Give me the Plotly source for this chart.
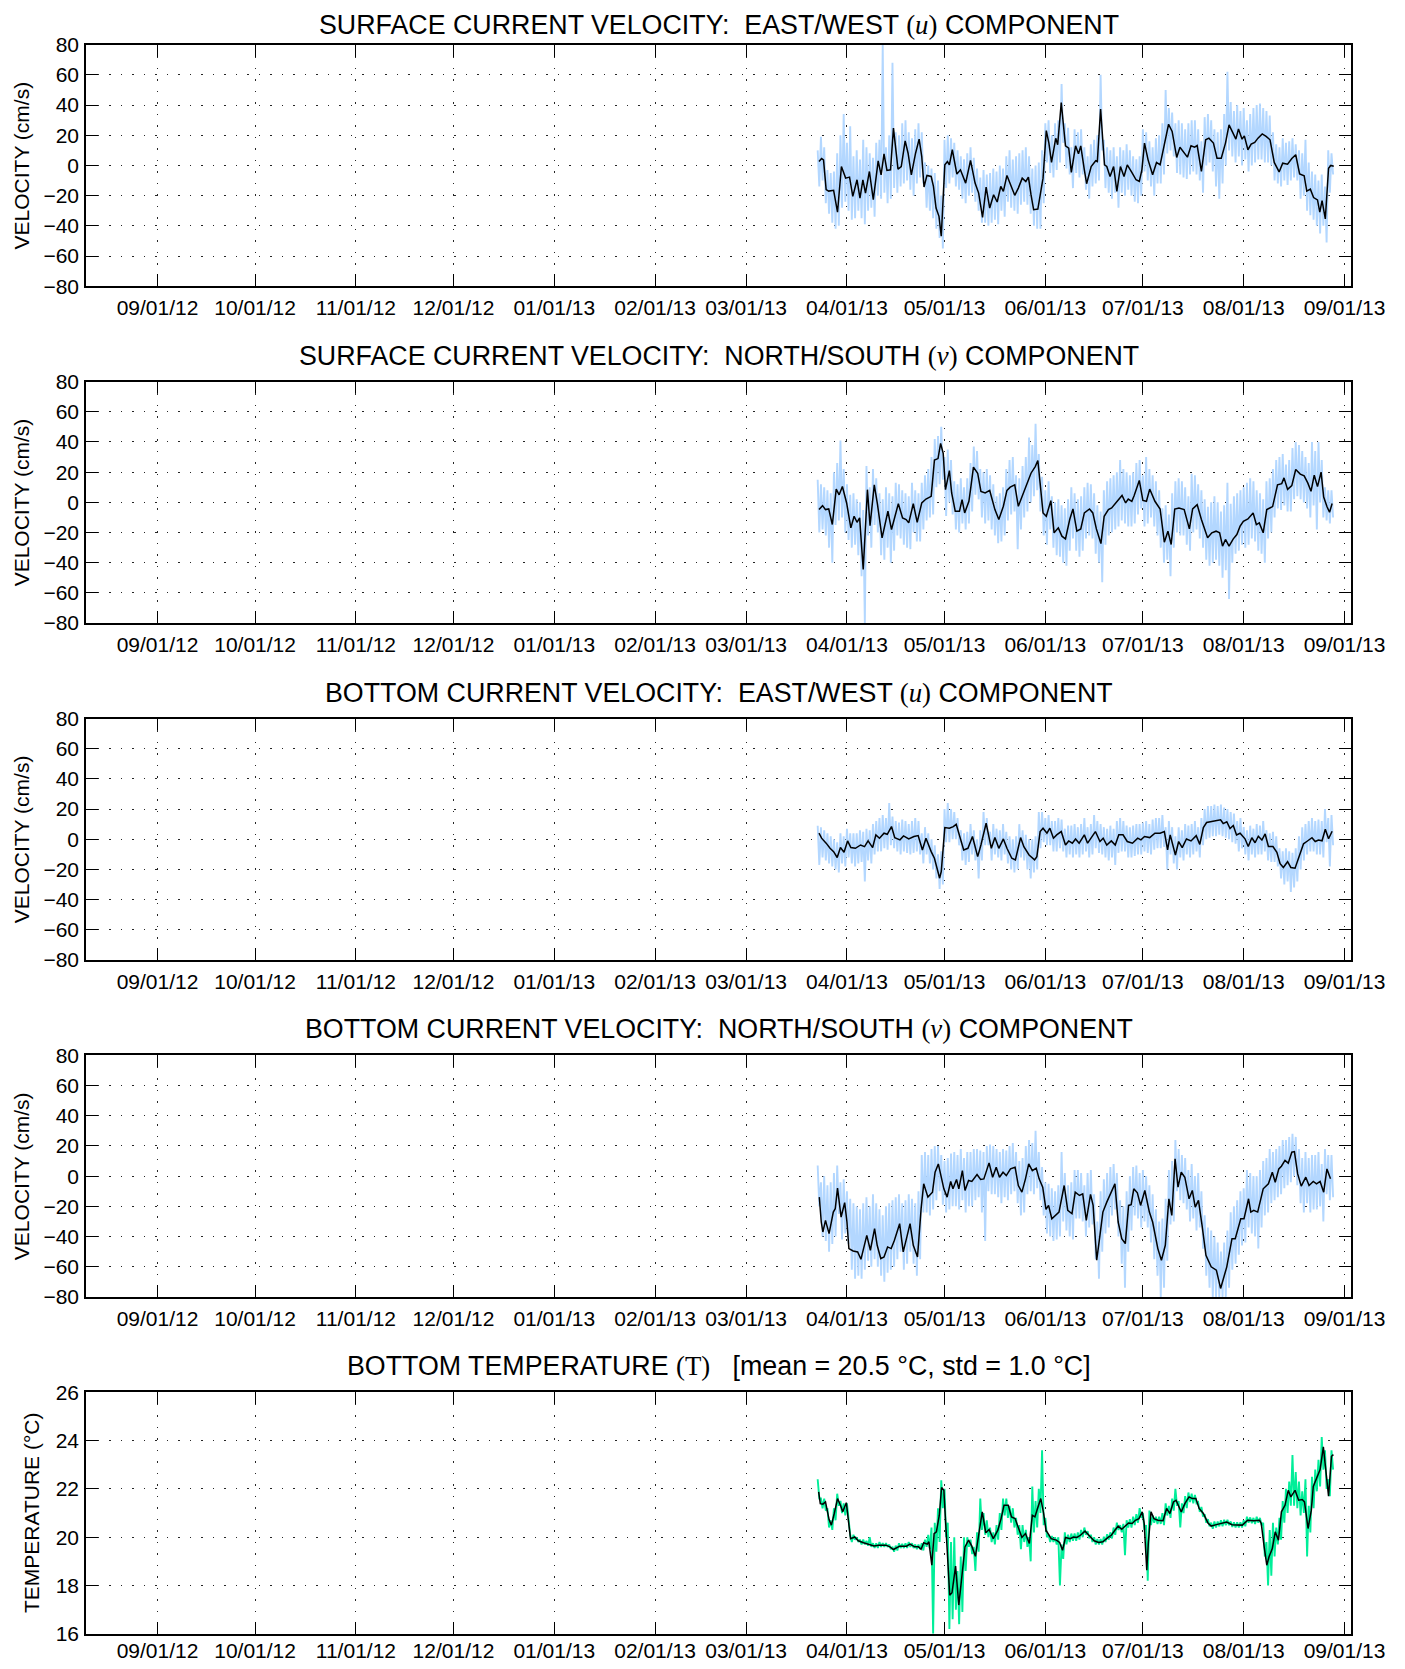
import pandas as pd
import plotly.graph_objects as go

# ---------------- DATA ----------------
BASE = "2013-03-01"          # day offsets below are days after this date
RAW_DAY0 = 22                # first day of the hi/lo raw-envelope arrays

tick_dates = ["2012-09-01", "2012-10-01", "2012-11-01", "2012-12-01", "2013-01-01",
              "2013-02-01", "2013-03-01", "2013-04-01", "2013-05-01", "2013-06-01",
              "2013-07-01", "2013-08-01", "2013-09-01"]
x_range = ["2012-08-10", "2013-09-03"]
vel_ticks = [-80, -60, -40, -20, 0, 20, 40, 60, 80]
temp_ticks = [16, 18, 20, 22, 24, 26]

# Panel 1: surface u (low-passed, black)
u_sfc_t = [22.4, 23.2, 23.8, 24.6, 25.4, 26.9, 28.1, 29.3, 30.6, 31.8, 32.8, 34.1, 35.0, 35.9, 36.7, 37.9,
           39.1, 40.6, 41.5, 42.4, 43.3, 44.4, 45.3, 46.7, 47.7, 48.9, 49.8, 50.8, 52.1, 53.2, 54.0, 54.7,
           55.6, 56.9, 57.6, 58.4, 59.3, 60.0, 61.1, 61.9, 62.5, 63.4, 64.8, 65.9, 67.5, 69.0, 70.4, 71.5,
           72.7, 73.8, 74.9, 76.1, 77.2, 78.3, 79.1, 80.2, 81.2, 82.6, 83.7, 84.9, 86.0, 86.8, 87.6, 88.4,
           89.7, 91.3, 92.3, 93.1, 93.9, 95.2, 95.8, 96.9, 98.2, 99.2, 100.0, 101.3, 102.2, 102.9, 104.0,
           104.7, 106.1, 107.5, 108.0, 109.0, 110.2, 110.9, 111.9, 113.0, 114.0, 115.1, 116.2, 117.2, 118.6,
           119.9, 120.9, 121.7, 122.5, 123.6, 125.0, 126.2, 127.3, 128.6, 129.9, 131.0, 132.4, 133.4, 134.7,
           135.7, 136.8, 137.9, 138.7, 140.0, 141.3, 142.3, 143.7, 144.8, 146.1, 147.4, 148.5, 149.7, 150.6,
           151.4, 152.5, 153.2, 154.3, 155.3, 156.4, 157.4, 158.7, 159.9, 161.1, 162.4, 163.9, 165.0, 166.5,
           167.8, 169.0, 170.2, 171.6, 172.4, 173.5, 174.5, 175.7, 176.4, 177.1, 178.1, 179.1, 179.8, 180.7]
u_sfc = [2.6, 4.6, 3.7, -16, -17, -16.5, -31, -0.7, -8.4, -7.7, -20.5, -9.5, -21.6, -9.5, -18.3, -4,
         -22.7, 3, -6.2, 7.7, -3.3, -2.9, 24.7, -2.4, -0.7, 16.3, 8.1, -6.2, 8.1, 17.4, 5.9, -14.3,
         -6.6, -7.3, -13.9, -28.2, -33.7, -46.9, 0.4, 2.6, 0.4, 10.4, -5.7, -2.9, -11.7, 3.3, -11.7, -18.3,
         -34.4, -14.3, -28.2, -19.4, -24.2, -13.9, -17.2, -6.6, -12.1, -19.8, -15, -8.4, -10.6, -7.7, -19.4, -29.3,
         -28.9, -8.4, 23.1, 14.8, 2, 18, 13.7, 41.6, 13, 11.5, -4.6, 13, 7.7, 13, -2.9,
         -12.1, -0.7, 3.1, 2.6, 37.4, 0.4, -0.7, -7.3, -0.7, -17.2, -0.7, -7.3, 0.4, -4.6,
         -9.5, -10.6, -2.9, 14.8, 3.7, -6.2, 2, 0.4, 13.7, 27.3, 22.5, 5.3, 12.1, 8.6,
         5.5, 13, 12.1, 13.2, -4, 17, 18.1, 14.8, 4.8, 4.8, 14.8, 26.9, 21.4, 17.4,
         24.2, 17.4, 19.6, 10.4, 14.1, 15.2, 18.1, 20.9, 19.2, 17, 2, -4.3, 1.5, 0.8,
         4.6, 7.1, -5.6, -6.8, -17, -15.7, -21.3, -22.8, -30.9, -23.3, -35.4, -1.8, 0, -0.5]
# Panel 1 raw envelope (one high and one low reading per day, from day 22)
u_sfc_hi = [10, 19, 12, -3, -5, -4, 8, 20, 34, 15,
            26, 6, 10, 4, 17, 12, 8, 5, 15, 17,
            80, 12, 20, 68, 22, 20, 28, 30, 22, 18,
            24, 28, 22, 2, 0, -2, -5, -10, -20, 17,
            20, 18, 15, 10, 6, 4, 8, 12, 5, -2,
            -8, -3, -6, -5, -2, -4, 0, -2, 6, 10,
            4, 6, 8, 10, 12, 6, -2, 0, 2, 10,
            28, 30, 20, 28, 30, 54, 28, 25, 12, 24,
            22, 24, 12, 6, 14, 17, 20, 60, 17, 12,
            10, 12, 6, 12, 10, 14, 10, 6, 4, 6,
            24, 22, 16, 12, 18, 20, 28, 50, 38, 35,
            28, 30, 28, 24, 28, 30, 30, 24, 16, 32,
            34, 30, 24, 22, 24, 34, 62, 42, 36, 40,
            36, 38, 30, 34, 38, 40, 41, 38, 36, 33,
            22, 14, 12, 18, 15, 16, 18, 14, 10, 8,
            17, 2, -4, -6, -10, -6, -14, 10, 8]
u_sfc_lo = [-14, -10, -25, -32, -38, -42, -40, -28, -24, -30,
            -36, -35, -30, -35, -39, -30, -28, -34, -20, -22,
            -18, -25, -22, -15, -18, -14, -12, -10, -16, -20,
            -12, -8, -12, -28, -30, -35, -42, -48, -55, -15,
            -12, -8, -14, -16, -22, -25, -20, -18, -24, -30,
            -38, -38, -40, -38, -36, -39, -30, -34, -24, -28,
            -30, -32, -26, -24, -26, -32, -40, -42, -42, -25,
            2, -5, -8, -3, 2, 15, -2, -6, -15, -5,
            -8, -6, -16, -22, -14, -12, -10, 10, -15, -18,
            -22, -18, -28, -18, -20, -16, -20, -24, -25, -20,
            -4, -10, -14, -20, -12, -12, -6, 8, 10, 6,
            -5, -6, -8, -9, -6, -4, -6, -10, -18, 0,
            2, -4, -14, -22, -12, 0, 10, 6, 2, 6,
            0, 4, -4, 0, 2, 4, 4, 2, 2, 0,
            -10, -12, -14, -10, -13, -10, -8, -10, -22, -20,
            -30, -33, -36, -40, -45, -40, -51, -18, -6]

# Panel 2: surface v
v_sfc_t = [22.4, 23.5, 24.4, 25.4, 26.5, 27.7, 28.6, 29.6, 30.9, 32.2, 33.2, 34.1, 34.9, 36.0, 37.3, 38.1,
           39.4, 40.4, 41.8, 43.6, 44.7, 45.7, 46.8, 48.1, 49.2, 50.0, 51.4, 52.6, 54.0, 55.3, 56.9, 57.9,
           59.0, 59.8, 60.6, 61.3, 62.5, 63.2, 64.3, 65.6, 66.4, 67.2, 68.5, 69.0, 69.9, 71.2, 72.2, 73.5,
           74.9, 76.5, 77.7, 79.1, 80.2, 81.2, 82.6, 83.7, 84.9, 86.2, 87.6, 88.9, 89.7, 90.4, 91.3, 92.3,
           93.7, 94.7, 96.0, 97.1, 98.2, 99.5, 100.5, 101.7, 102.9, 104.0, 105.6, 106.6, 107.7, 109.1, 110.1,
           111.4, 112.4, 114.1, 115.6, 116.7, 117.5, 118.6, 119.3, 120.9, 122.0, 123.1, 124.1, 125.7, 127.3,
           128.6, 129.7, 130.7, 131.8, 133.1, 134.7, 136.3, 137.3, 138.7, 140.0, 141.9, 143.2, 144.5, 145.6,
           146.5, 147.4, 148.5, 149.8, 150.9, 151.9, 152.9, 154.3, 155.9, 156.9, 157.8, 159.0, 160.1, 160.9,
           161.9, 163.4, 164.7, 165.4, 166.5, 167.8, 169.0, 170.4, 171.6, 172.7, 173.7, 174.7, 175.7, 176.8,
           177.6, 178.6, 179.4, 180.2]
v_sfc = [-4.8, -2.2, -4.8, -4.4, -14.7, 8.8, 5, 10.5, -0.4, -16.9, -9.2, -13.2, -10.3, -44.4, 8.4, -15.4,
         11.6, -1.5, -23.5, -5.9, -18, -10.3, -0.9, -10.3, -11.4, -13.6, -0.9, -13.2, -0.4, 2.2, 4, 28,
         29, 39, 32.5, 8.4, 21, 6.2, -5.9, -5.9, 1.8, -7, 0.7, 8.4, 23.3, 19.3, 7.3, 6.2,
         7.9, -4.8, -11.4, -2.6, 7.9, 10.1, 11.6, -2.6, 4, 11.6, 19.3, 23.7, 27.7, 12.7, -7, -9.2,
         1.1, -20.2, -16.9, -22.4, -24.2, -11.4, -4.4, -19.1, -17.6, -7, -4.4, -7, -17.6, -27.3, -9.2,
         -4.8, -3.7, 0.7, 4.6, -0.4, 2.2, 0.7, 4.4, 14.5, 1.3, 0.7, 8.8, 0.7, -4.4,
         -26.4, -19.1, -27.9, -4.4, -3.7, -4.8, -17.6, -4.4, -1.5, -11.4, -23.5, -20.2, -19.1, -20.2,
         -29, -24.6, -29, -24.2, -21.3, -15.8, -12.5, -11, -7, -14.7, -13.6, -20.2, -4.8, -3.7,
         -2.8, 11.6, 12.4, 16.2, 8.6, 11.1, 21.8, 18.7, 17.5, 12.9, 7.3, 18, 10.4, 20,
         3.5, -2.8, -6.6, -0.8]
v_sfc_hi = [15, 12, 10, 8, 6, 20, 26, 41, 22, 12,
            5, 6, 2, 0, -5, 24, 10, 22, 16, 6,
            2, 10, 6, 4, 13, 12, 8, 6, 4, 13,
            8, 6, 13, 18, 22, 30, 42, 44, 50, 30,
            35, 28, 14, 12, 16, 10, 16, 26, 37, 34,
            22, 20, 22, 18, 12, 4, 6, 10, 22, 28,
            30, 18, 16, 24, 30, 43, 38, 52, 32, 17,
            8, 14, 4, 0, 2, -2, -4, 2, 10, 6,
            2, 4, 10, 13, 12, 6, -2, -6, 8, 14,
            16, 18, 20, 28, 22, 20, 18, 20, 26, 28,
            18, 30, 22, 18, 14, 8, -4, -2, -8, 6,
            14, 16, 14, 10, 4, 19, 18, 12, 8, 2,
            -3, 0, 4, 0, -6, -2, 13, -1, 4, 6,
            8, 10, 13, 16, 14, 8, 6, 2, 14, 16,
            22, 28, 30, 32, 25, 28, 36, 40, 38, 34,
            30, 26, 40, 34, 40, 28, 10, 8, 8]
v_sfc_lo = [-20, -18, -22, -30, -40, -15, -12, -10, -20, -25,
            -30, -28, -35, -49, -80, -22, -30, -15, -20, -35,
            -38, -30, -40, -32, -22, -24, -28, -30, -31, -20,
            -26, -26, -18, -12, -10, -8, 10, 12, 15, -9,
            0, -8, -18, -20, -14, -18, -14, -6, 5, 2,
            -10, -14, -12, -18, -22, -27, -26, -22, -12, -8,
            -6, -31, -18, -10, -6, 0, 4, 8, -6, -22,
            -28, -18, -30, -35, -36, -40, -42, -32, -24, -32,
            -36, -32, -24, -22, -24, -34, -40, -53, -28, -22,
            -20, -18, -16, -12, -14, -16, -16, -14, -8, -4,
            -16, -14, -10, -16, -22, -30, -40, -38, -49, -30,
            -20, -22, -22, -28, -32, -20, -18, -24, -30, -38,
            -42, -40, -38, -42, -50, -45, -64, -40, -34, -32,
            -28, -30, -28, -24, -26, -32, -34, -40, -24, -20,
            -10, -4, -5, -2, -6, -6, 2, 4, 2, 0,
            -4, -10, -2, -18, 0, -10, -12, -14, -10]

# Panel 3: bottom u
u_bot_t = [22.4, 23.2, 24.6, 25.8, 26.9, 28.0, 29.0, 30.1, 31.2, 32.2, 33.6, 35.2, 36.4, 37.5, 38.9, 39.9,
           41.0, 42.4, 43.4, 44.7, 45.7, 47.3, 48.4, 50.0, 51.6, 52.9, 54.2, 55.3, 56.9, 57.9, 58.7, 59.5,
           60.0, 61.1, 62.5, 63.7, 64.6, 65.6, 66.9, 68.2, 69.6, 71.2, 72.2, 73.8, 75.4, 76.5, 77.7, 79.1,
           80.2, 81.7, 82.8, 84.4, 85.4, 87.0, 88.7, 89.4, 90.4, 91.3, 92.5, 93.4, 94.5, 95.5, 96.9, 98.2,
           99.2, 100.3, 101.3, 102.4, 104.0, 105.0, 106.1, 107.4, 108.8, 109.8, 110.9, 112.3, 113.5, 114.6,
           115.9, 117.2, 118.8, 120.4, 121.4, 122.5, 124.1, 125.7, 127.3, 128.6, 129.6, 130.4, 132.0, 133.0,
           134.1, 135.4, 136.8, 138.4, 139.5, 140.6, 141.6, 143.1, 144.7, 145.9, 146.7, 147.8, 148.8, 149.8,
           150.8, 151.9, 153.4, 154.4, 155.5, 156.5, 157.5, 158.6, 159.6, 160.6, 162.0, 163.2, 164.2, 165.2,
           166.5, 167.5, 168.8, 170.2, 171.4, 172.4, 174.0, 175.0, 176.0, 177.1, 178.1, 179.1, 180.2]
u_bot = [4, 0.7, -2.6, -6, -8.2, -12.1, -5.5, -8.6, -1.1, -5.5, -6, -3.8, -4.9, -1.1, -5.5, 2.9,
         0.7, 4, 3.3, 8.4, 1.1, -0.4, 2.2, 0.2, 1.8, 2.4, -7.1, 0.7, -8.2, -12.6, -19.2, -25.8,
         -21.4, 7.7, 7.3, 8.4, 9.9, 1.8, -7.1, -6, 1.8, -11.5, -3.8, 10.6, -6, 1.1, -6, 0.2,
         -6, -12.6, -13.7, 1.1, -4.9, -10.4, -13.7, -11.5, 5.1, 7.3, 4, 7.3, 0.7, 2.9, 5.1, -3.8,
         -1.1, -2.6, 0.2, -2.6, 2.9, -2.6, 0.7, 5.1, -1.5, 0.7, -3.8, -1.1, -3.8, 2.9,
         2.9, -1.5, -2.6, 0.7, -0.4, 1.8, 1.1, 4, 4, 5.1, -7.1, 2.9, -10.4, -1.5,
         -5.5, 0.2, -1.1, 2.4, -3.4, 7.8, 11.1, 11.6, 12.2, 12.9, 10.4, 11.6, 7.1, 9.1,
         2.8, 4, 0.3, -4.8, 1, -2.3, 2, -0.5, 3.5, -4.8, -4.8, -8.6, -16.2, -18.7,
         -14.9, -18.7, -19.2, -9.9, -3, -1.5, 1, -1.5, -0.5, -1, 6.6, 0.3, 5.3]
u_bot_hi = [9, 8, 6, 4, 2, 0, -2, 4, 2, 7,
            4, 4, 4, 6, 5, 7, 6, 10, 12, 14,
            16, 14, 24, 15, 12, 11, 13, 12, 10, 12,
            14, 12, 4, 8, 4, 0, -4, -10, -8, 20,
            24, 20, 18, 14, 6, 4, 5, 10, 6, 0,
            6, 18, 14, 5, 10, 7, 6, 10, 5, 2,
            0, 2, 10, 6, 3, 0, 0, 2, 18, 18,
            14, 16, 12, 12, 14, 13, 7, 9, 9, 10,
            8, 10, 14, 8, 10, 16, 12, 10, 8, 7,
            9, 7, 12, 14, 12, 9, 8, 9, 10, 10,
            11, 12, 10, 13, 14, 14, 16, 8, 12, 8,
            2, 8, 6, 10, 9, 10, 12, 8, 14, 20,
            22, 22, 23, 22, 23, 21, 20, 18, 17, 12,
            14, 8, 6, 9, 7, 10, 9, 12, 6, 4,
            5, 2, -6, -8, -6, -8, -9, -6, 2, 8,
            10, 12, 14, 12, 13, 12, 20, 14, 16]
u_bot_lo = [-17, -12, -14, -16, -18, -20, -22, -16, -18, -12,
            -16, -18, -16, -15, -28, -14, -16, -10, -8, -8,
            -6, -7, -4, -6, -8, -10, -8, -9, -10, -9,
            -8, -10, -16, -10, -16, -20, -26, -33, -30, -2,
            -2, 0, 0, -4, -14, -17, -15, -10, -14, -26,
            -14, -4, -4, -14, -10, -12, -14, -10, -16, -20,
            -22, -20, -12, -14, -20, -26, -22, -20, -6, -2,
            -4, -4, -8, -8, -6, -8, -12, -10, -12, -10,
            -12, -10, -8, -12, -10, -6, -9, -10, -12, -14,
            -12, -17, -9, -8, -8, -12, -12, -11, -10, -10,
            -8, -9, -10, -7, -6, -6, -5, -20, -10, -16,
            -20, -12, -14, -10, -12, -10, -8, -12, -4, 0,
            1, 2, 2, 3, 2, 1, 0, -2, -3, -8,
            -6, -10, -14, -10, -12, -10, -10, -8, -14, -15,
            -15, -18, -26, -30, -28, -35, -32, -28, -20, -14,
            -10, -8, -8, -10, -10, -12, -2, -18, -4]

# Panel 4: bottom v
v_bot_t = [22.5, 23.1, 23.6, 24.4, 25.5, 26.8, 27.4, 28.1, 29.2, 30.3, 31.0, 31.6, 32.9, 34.3, 35.3, 36.1,
           37.1, 38.2, 39.5, 40.3, 41.4, 42.4, 43.5, 44.6, 45.6, 47.2, 48.3, 49.3, 50.4, 51.4, 52.7, 53.8,
           54.6, 55.9, 57.3, 58.1, 59.1, 59.9, 60.8, 61.8, 62.9, 63.6, 64.7, 65.4, 66.5, 67.3, 68.4, 69.4,
           71.0, 72.1, 73.1, 74.7, 75.8, 76.9, 77.9, 79.0, 80.0, 81.3, 82.7, 83.7, 84.8, 85.9, 86.9, 88.0,
           89.2, 90.1, 91.2, 92.2, 93.0, 94.0, 95.1, 96.2, 97.8, 98.9, 100.2, 101.2, 102.5, 103.5, 104.6,
           105.9, 106.7, 107.8, 108.8, 109.7, 110.9, 112.3, 113.4, 114.4, 115.5, 116.6, 117.6, 118.4, 119.2,
           120.3, 121.3, 122.6, 124.0, 125.0, 126.6, 127.7, 128.9, 130.0, 130.9, 131.9, 132.8, 133.8, 134.9,
           136.2, 137.2, 138.1, 139.1, 140.2, 141.4, 143.0, 144.6, 145.9, 147.0, 147.8, 149.4, 150.4, 152.1,
           153.1, 154.5, 155.2, 156.1, 157.3, 159.0, 160.6, 161.8, 162.7, 163.8, 164.6, 165.7, 166.7, 167.8,
           168.6, 169.6, 170.7, 172.1, 173.1, 174.4, 175.4, 176.5, 177.6, 178.6, 179.7]
v_bot = [-13.9, -30.4, -37, -29.3, -38.1, -23.8, -21.6, -7.9, -27.1, -17.6, -30.4, -48, -49.6, -50.2, -55.1, -47.6,
         -39.2, -49.1, -34.8, -45.8, -54.6, -53.5, -46.9, -48, -42.5, -31.5, -50.2, -41.4, -31.5, -45.8, -53.5, -21.6,
         -5.1, -13.9, -10.6, 2.6, 8.1, 0.4, -8.4, -13.9, -3.5, -8.4, -2.2, -8.4, 3.7, -9.5, -2.9, -3.5,
         1.1, -2.2, -1.8, 8.8, -0.7, 5.9, -0.7, 2.6, 0.4, 4.8, 5.9, -6.2, -10.6, -1.8, 8.1, 3.7,
         5.3, -1.8, -7.3, -22, -19.4, -28.2, -26, -23.8, -6.2, -22.7, -24.9, -10.6, -12.8, -11.7, -29.3,
         -12.1, -19.4, -55.7, -39.2, -23.8, -17.2, -11, -5.1, -30.4, -41.4, -44.7, -19.4, -18.9, -8.4,
         -11, -19.4, -9.5, -23.8, -30.4, -48, -55.7, -45.8, -15, -26, 11.5, -7.3, 2.6, -0.7,
         -15, -9.5, -20.5, -16.1, -32.6, -52.4, -60.1, -62.3, -74.4, -65.6, -60.1, -41.4, -41.4, -28.2,
         -28.2, -15, -23.8, -22.7, -23.8, -8.4, -5.1, 2.6, -4, 4.8, 6.6, 10.4, 8.6, 15.9,
         16.3, 1.5, -6.6, -0.7, -6.2, -3.5, -5.1, -3.5, -10.6, 4.8, -1.8]
v_bot_hi = [7, -4, 0, -6, -4, 2, 7, -4, -2, -10,
            -15, -18, -20, -22, -18, -14, -20, -12, -18, -22,
            -26, -20, -18, -16, -14, -12, -18, -16, -12, -15,
            -18, -10, 14, 16, 14, 18, 20, 20, 14, 10,
            12, 15, 16, 14, 18, 12, 16, 16, 18, 18,
            17, 16, 20, 21, 20, 18, 16, 18, 17, 20,
            22, 16, 10, 12, 20, 24, 22, 30, 16, 6,
            -4, -5, -8, -10, -6, 16, 2, -6, -4, 4,
            4, 2, -6, 2, 4, -12, -30, -10, -2, 2,
            6, 8, 2, -16, -20, -10, 0, 6, 7, 2,
            4, 0, -6, -12, -22, -30, -28, -15, 4, 10,
            24, 18, 14, 12, 4, 8, 0, 2, -10, -26,
            -34, -36, -40, -44, -50, -44, -36, -24, -20, -16,
            -10, -8, 4, 2, 0, 0, 4, 10, 12, 18,
            16, 18, 20, 24, 24, 26, 28, 26, 18, 12,
            16, 12, 14, 14, 16, 8, 18, 14, 14]
v_bot_lo = [-20, -40, -43, -50, -45, -40, -25, -42, -38, -45,
            -62, -68, -66, -68, -62, -56, -60, -55, -60, -66,
            -70, -64, -62, -60, -55, -50, -62, -58, -50, -58,
            -66, -55, -24, -24, -26, -22, -16, -10, -19, -24,
            -22, -20, -20, -22, -16, -24, -20, -20, -16, -14,
            -24, -43, -10, -12, -12, -14, -18, -14, -16, -12,
            -10, -18, -26, -24, -12, -10, -12, -8, -16, -26,
            -38, -40, -43, -42, -40, -30, -36, -40, -42, -28,
            -28, -30, -40, -34, -32, -55, -68, -50, -38, -34,
            -26, -22, -40, -58, -74, -50, -36, -26, -28, -34,
            -30, -34, -44, -55, -66, -80, -74, -56, -32, -30,
            -10, -16, -18, -22, -30, -28, -36, -34, -48, -66,
            -74, -80, -80, -80, -80, -80, -74, -62, -58, -52,
            -46, -44, -34, -38, -40, -48, -34, -26, -24, -18,
            -16, -14, -12, -8, -6, -4, 0, -6, -18, -24,
            -18, -24, -22, -22, -20, -30, -12, -16, -14]

# Panel 5: bottom temperature
t_bot_t = [22.3, 22.8, 23.6, 24.4, 25.5, 26.2, 27.1, 28.1, 29.0, 29.7, 30.8, 31.3, 32.1, 33.4, 34.5, 36.1,
           37.7, 39.3, 40.8, 43.0, 44.2, 45.3, 47.2, 49.3, 50.4, 51.8, 53.0, 53.8, 54.6, 55.7, 56.2, 57.1,
           57.8, 58.5, 59.4, 60.1, 60.8, 61.5, 62.6, 63.3, 64.4, 65.4, 66.3, 67.3, 68.4, 69.4, 70.5, 71.6,
           72.6, 73.7, 74.7, 76.0, 77.4, 78.4, 79.3, 80.6, 81.6, 82.7, 83.7, 84.8, 85.9, 87.1, 88.0, 88.8,
           89.6, 90.6, 91.5, 92.2, 93.8, 95.4, 96.4, 97.3, 98.2, 99.6, 100.7, 101.7, 102.8, 104.2, 105.4,
           107.0, 108.4, 109.7, 111.3, 112.3, 113.4, 114.4, 115.5, 116.6, 117.6, 118.7, 119.7, 120.8, 121.8,
           122.4, 122.9, 123.2, 123.7, 124.5, 125.4, 126.6, 128.2, 129.3, 130.3, 131.4, 132.2, 133.0, 133.8,
           134.9, 136.2, 137.2, 138.3, 139.3, 140.6, 142.0, 143.0, 144.6, 146.2, 147.8, 149.4, 151.0, 152.6,
           154.2, 156.1, 157.9, 158.4, 159.3, 160.1, 160.8, 161.8, 162.7, 163.7, 164.6, 165.7, 166.7, 167.5,
           168.8, 169.9, 171.0, 171.7, 172.8, 173.8, 174.4, 175.4, 176.5, 177.5, 178.4, 179.1, 180.0, 180.6]
t_bot = [21.88, 21.39, 21.37, 21.46, 20.73, 20.5, 20.98, 21.6, 21.32, 21.05, 21.43, 20.84, 19.94, 20.01, 19.85, 19.77,
         19.71, 19.64, 19.67, 19.67, 19.6, 19.49, 19.63, 19.63, 19.71, 19.6, 19.6, 19.5, 19.77, 19.71, 19.81, 18.84,
         20.15, 20.22, 20.91, 22.06, 21.94, 20.43, 17.6, 17.7, 18.8, 17.19, 18.22, 19.6, 19.88, 19.63, 19.21, 20.15,
         21.05, 20.18, 20.32, 19.94, 20.29, 20.77, 21.32, 21.32, 20.84, 20.77, 20.43, 19.99, 20.15, 19.74, 20.91, 20.84,
         21.19, 21.6, 20.98, 20.29, 19.94, 19.88, 19.78, 19.46, 19.99, 19.94, 20.01, 19.99, 20.08, 20.25, 20.08,
         19.85, 19.78, 19.81, 19.99, 20.08, 20.29, 20.46, 20.33, 20.46, 20.59, 20.57, 20.7, 20.77, 21.05,
         20.57, 19.53, 18.63, 19.81, 21.05, 20.77, 20.7, 20.68, 21.19, 20.98, 21.46, 21.53, 21.28, 21.05,
         21.39, 21.67, 21.6, 21.6, 21.19, 20.98, 20.59, 20.46, 20.52, 20.57, 20.63, 20.52, 20.5, 20.5,
         20.7, 20.68, 20.7, 20.57, 19.6, 18.84, 19.19, 19.53, 20.22, 19.88, 21.05, 21.32, 21.94, 21.67,
         21.94, 21.53, 21.56, 21.46, 20.36, 21.12, 22.1, 22.45, 22.8, 23.74, 22.7, 21.7, 23.35, 23.42]
t_bot_hi = [22.4, 21.6, 21.6, 21.2, 20.7, 21.2, 21.8, 21.5, 21.4, 21.4,
            20.1, 20.1, 20.0, 19.9, 19.9, 19.85, 20.0, 19.75, 19.75, 19.8,
            19.75, 19.75, 19.7, 19.6, 19.65, 19.75, 19.72, 19.75, 19.8, 19.75,
            19.7, 19.7, 19.75, 19.9, 20.1, 20.4, 20.6, 21.2, 22.36, 22.0,
            20.6, 19.8, 20.0, 18.6, 19.2, 20.0, 20.0, 19.9, 19.6, 20.2,
            21.6, 21.0, 20.7, 20.4, 20.2, 20.5, 21.0, 21.6, 21.6, 21.3,
            21.2, 20.8, 20.5, 20.5, 20.3, 20.0, 22.1, 21.5, 22.0, 23.6,
            20.8, 20.1, 20.05, 20.0, 20.0, 19.7, 20.2, 20.1, 20.15, 20.15,
            20.2, 20.3, 20.4, 20.25, 20.1, 20.0, 19.92, 19.92, 20.02, 20.12,
            20.2, 20.4, 20.6, 20.5, 20.55, 20.7, 20.75, 20.85, 20.95, 21.2,
            21.0, 20.5, 21.1, 20.9, 20.85, 20.85, 21.0, 21.4, 21.3, 21.6,
            22.0, 21.5, 21.4, 21.7, 21.85, 21.8, 21.75, 21.45, 21.25, 20.95,
            20.75, 20.6, 20.65, 20.65, 20.7, 20.72, 20.72, 20.65, 20.62, 20.62,
            20.62, 20.7, 20.85, 20.82, 20.8, 20.85, 20.8, 20.6, 19.8, 20.3,
            20.6, 20.4, 20.8, 21.5, 22.0, 22.3, 23.4, 22.7, 22.3, 21.9,
            22.4, 21.3, 22.5, 22.8, 23.2, 24.15, 23.6, 22.4, 23.6]
t_bot_lo = [21.6, 21.2, 21.1, 20.4, 20.3, 20.7, 21.3, 21.0, 20.9, 20.8,
            19.8, 19.9, 19.8, 19.7, 19.7, 19.65, 19.6, 19.55, 19.55, 19.6,
            19.6, 19.6, 19.5, 19.4, 19.45, 19.55, 19.55, 19.55, 19.6, 19.55,
            19.5, 19.5, 19.45, 19.6, 19.5, 16.0, 19.4, 19.8, 21.2, 20.0,
            16.2, 16.6, 17.0, 16.4, 16.9, 18.6, 19.6, 19.3, 18.6, 19.4,
            20.3, 20.1, 20.0, 19.8, 19.7, 19.9, 20.3, 20.9, 20.8, 20.6,
            20.4, 20.1, 19.5, 19.8, 19.6, 19.0, 20.2, 20.4, 21.0, 20.5,
            20.0, 19.8, 19.8, 19.7, 18.0, 19.1, 19.7, 19.8, 19.85, 19.85,
            19.9, 20.0, 20.1, 19.95, 19.8, 19.7, 19.7, 19.7, 19.8, 19.9,
            19.95, 20.1, 20.3, 20.2, 19.25, 20.4, 20.4, 20.5, 20.6, 20.8,
            20.3, 18.2, 20.5, 20.6, 20.55, 20.55, 20.5, 20.9, 20.8, 21.1,
            21.3, 20.4, 21.0, 21.2, 21.45, 21.4, 21.4, 21.05, 20.85, 20.6,
            20.45, 20.35, 20.4, 20.45, 20.45, 20.5, 20.5, 20.42, 20.4, 20.4,
            20.4, 20.45, 20.6, 20.58, 20.55, 20.6, 20.5, 19.2, 18.0, 18.4,
            19.2, 19.7, 19.9, 20.6, 21.0, 21.3, 21.3, 21.2, 20.9, 21.0,
            19.2, 20.2, 21.2, 21.9, 22.1, 22.8, 22.0, 21.7, 22.8]

SERIF = "font-family:'Liberation Serif','Times New Roman',serif"
titles = [
    f"SURFACE CURRENT VELOCITY:&nbsp; EAST/WEST <span style=\"{SERIF}\">(<i>u</i>)</span> COMPONENT",
    f"SURFACE CURRENT VELOCITY:&nbsp; NORTH/SOUTH <span style=\"{SERIF}\">(<i>v</i>)</span> COMPONENT",
    f"BOTTOM CURRENT VELOCITY:&nbsp; EAST/WEST <span style=\"{SERIF}\">(<i>u</i>)</span> COMPONENT",
    f"BOTTOM CURRENT VELOCITY:&nbsp; NORTH/SOUTH <span style=\"{SERIF}\">(<i>v</i>)</span> COMPONENT",
    f"BOTTOM TEMPERATURE <span style=\"{SERIF}\">(T)</span>&nbsp;&nbsp; [mean = 20.5 °C, std = 1.0 °C]",
]
ylabels = ["VELOCITY (cm/s)"] * 4 + ["TEMPERATURE (°C)"]

# ---------------- FIGURE ----------------
# The page body has an 8 px margin, so the figure is sized/placed to compensate.
W, H = 1389, 1653
PL, PR = 78, 1343
tops = [36.7, 373.6, 710.5, 1047.4, 1384.3]
PH = 241.5
base = pd.Timestamp(BASE)


def to_dates(days):
    return [base + pd.Timedelta(days=float(d)) for d in days]


def raw_series(hi, lo):
    t, v = [], []
    for i, (h, l) in enumerate(zip(hi, lo)):
        d = RAW_DAY0 + i
        t += [d, d + 0.5]
        v += [h, l]
    return to_dates(t), v


panels = [
    (u_sfc_t, u_sfc, u_sfc_hi, u_sfc_lo, "#b3d7ff"),
    (v_sfc_t, v_sfc, v_sfc_hi, v_sfc_lo, "#b3d7ff"),
    (u_bot_t, u_bot, u_bot_hi, u_bot_lo, "#b3d7ff"),
    (v_bot_t, v_bot, v_bot_hi, v_bot_lo, "#b3d7ff"),
    (t_bot_t, t_bot, t_bot_hi, t_bot_lo, "#00ee99"),
]

fig = go.Figure()
FONT = "Liberation Sans, Arial, Helvetica, sans-serif"
annotations = []
for k, (tt, vv, hi, lo, col) in enumerate(panels):
    xa = "x" if k == 0 else f"x{k+1}"
    ya = "y" if k == 0 else f"y{k+1}"
    rt, rv = raw_series(hi, lo)
    fig.add_trace(go.Scatter(x=rt, y=rv, mode="lines", line=dict(color=col, width=1.9),
                             xaxis=xa, yaxis=ya, showlegend=False, hoverinfo="skip"))
    fig.add_trace(go.Scatter(x=to_dates(tt), y=vv, mode="lines", line=dict(color="black", width=1.5),
                             xaxis=xa, yaxis=ya, showlegend=False))
    y0 = 1 - (tops[k] + PH) / H
    y1 = 1 - tops[k] / H
    axcommon = dict(showline=True, linecolor="black", linewidth=1.6, mirror="ticks",
                    ticks="inside", ticklen=12, tickwidth=1.4, tickcolor="black",
                    showgrid=True, gridcolor="rgba(0,0,0,0.85)", gridwidth=1, griddash="1.5px,10px",
                    zeroline=False, automargin=False,
                    tickfont=dict(family=FONT, size=21, color="black"))
    xkey = "xaxis" if k == 0 else f"xaxis{k+1}"
    ykey = "yaxis" if k == 0 else f"yaxis{k+1}"
    fig.update_layout(**{
        xkey: dict(domain=[PL / W, PR / W], anchor=ya, type="date", range=x_range,
                   tickvals=tick_dates, tickformat="%m/%d/%y",
                   ticklabelstandoff=(-3 if k == 4 else 2), **axcommon),
        ykey: dict(domain=[y0, y1], anchor=xa,
                   range=[16, 26] if k == 4 else [-80, 80],
                   tickvals=temp_ticks if k == 4 else vel_ticks,
                   ticklabelstandoff=1, **axcommon),
    })
    if k == 0:
        title_pos = dict(y=1.0, yanchor="top")      # keep the top title inside the page
    else:
        title_pos = dict(y=1 - (tops[k] - 26) / H, yanchor="middle")
    annotations.append(dict(text=titles[k], xref="paper", yref="paper",
                            x=(PL + PR) / 2 / W, xanchor="center", showarrow=False,
                            font=dict(family=FONT, size=26.8, color="black"), **title_pos))
    annotations.append(dict(text=ylabels[k], xref="paper", yref="paper",
                            x=(23 if k == 4 else 13) / W, y=1 - (tops[k] + PH / 2) / H,
                            xanchor="center", yanchor="middle", textangle=-90, showarrow=False,
                            font=dict(family=FONT, size=21, color="black")))

fig.update_layout(width=W, height=H, margin=dict(l=0, r=0, t=0, b=0, autoexpand=False),
                  paper_bgcolor="white", plot_bgcolor="white",
                  font=dict(family=FONT, size=21, color="black"),
                  annotations=annotations, showlegend=False)
fig.write_html("out.html")
